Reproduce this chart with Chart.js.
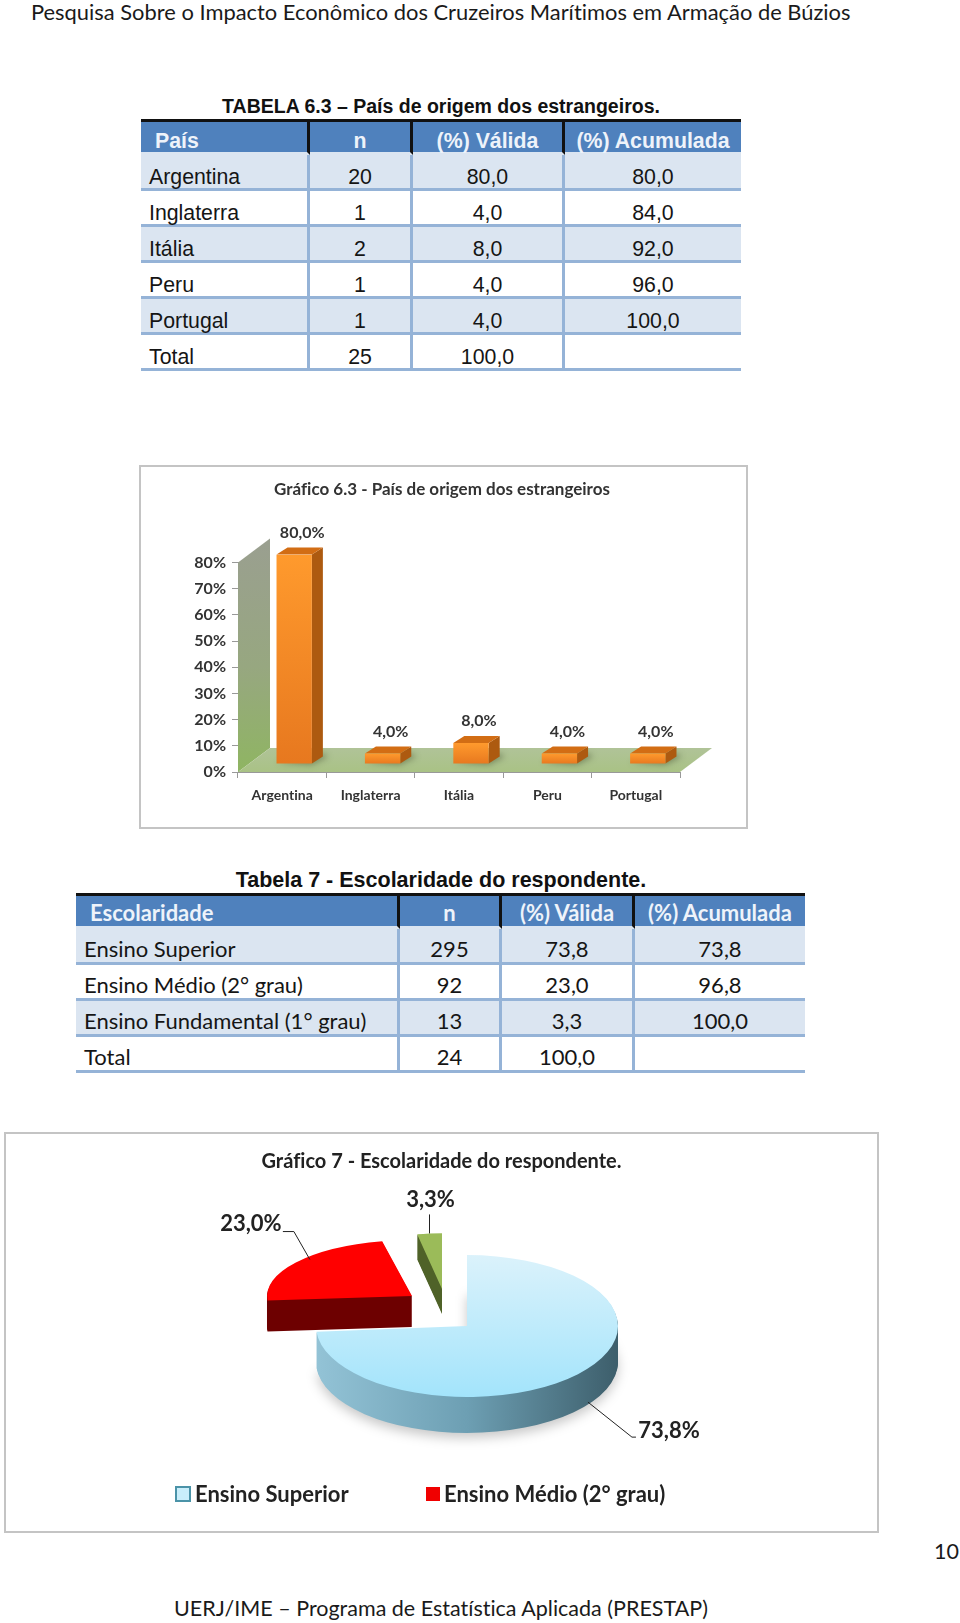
<!DOCTYPE html>
<html lang="pt"><head><meta charset="utf-8">
<script src="https://cdn.jsdelivr.net/npm/chart.js@4"></script>
<style>
*{font-variant-ligatures:none !important}
html,body{margin:0;padding:0;background:#fff}
body{position:relative;width:960px;height:1623px;overflow:hidden;color:#111}
.t{position:absolute;white-space:nowrap}
.run{font:21.5px Lato,sans-serif;color:#1a1a1a}
.cap{font:bold 19.5px "Liberation Sans",sans-serif;left:0;width:882px;text-align:center;color:#111}
.frame{position:absolute;box-sizing:border-box;border:2px solid #c4c4c4;background:#fff}
canvas{position:absolute;display:block}
table{position:absolute;border-collapse:separate;border-spacing:0;table-layout:fixed}
td,th{box-sizing:border-box;height:36px;padding:0;text-align:center;font-weight:normal;border-bottom:3px solid #95b3d7;border-right:3px solid #95b3d7;color:#151515}
td:last-child,th:last-child{border-right:none}
th{background:#4f81bd;color:#eef3fa;font-weight:bold;border-top:3px solid #111;border-bottom:3px solid #dbe5f1;border-right:3px solid #111}
th:first-child{text-align:left;padding-left:14px}
td:first-child{text-align:left;padding-left:8px}
tr.band td{background:#dbe5f1}
.arial td,.arial th{font:21.3px/21px "Liberation Sans",sans-serif;padding-top:12px}
.arial th{font-weight:bold;line-height:21px;padding-top:9px}
.lato td,.lato th{font:22px/27px Lato,sans-serif;padding-top:6px}
.lato th{font-weight:bold;padding-top:2px}
</style></head><body>
<div class="t run" id="hd" style="left:31px;top:-2px;font-size:21.9px">Pesquisa Sobre o Impacto Econômico dos Cruzeiros Marítimos em Armação de Búzios</div>
<div class="t cap" style="top:95px">TABELA 6.3 – País de origem dos estrangeiros.</div>
<table class="arial" id="t1" style="left:141px;top:119px"></table>
<div class="frame" style="left:139px;top:465px;width:609px;height:364px"></div>
<canvas id="barChart" width="607" height="362" style="left:140px;top:466px"></canvas>
<div class="t cap" style="top:868px;font-size:21.5px">Tabela 7 - Escolaridade do respondente.</div>
<table class="lato" id="t2" style="left:76px;top:893px"></table>
<div class="frame" style="left:4px;top:1132px;width:875px;height:401px"></div>
<canvas id="pieChart" width="873" height="399" style="left:5px;top:1133px"></canvas>
<div class="t run" style="left:934px;top:1538px">10</div>
<div class="t run" id="ft" style="left:174px;top:1595px;font-size:21.5px">UERJ/IME – Programa de Estatística Aplicada (PRESTAP)</div>
<script>
// ---- data ----
const countryHeader = ['País','n','(%) Válida','(%) Acumulada'];
const countryRows = [
  ['Argentina','20','80,0','80,0'],
  ['Inglaterra','1','4,0','84,0'],
  ['Itália','2','8,0','92,0'],
  ['Peru','1','4,0','96,0'],
  ['Portugal','1','4,0','100,0'],
  ['Total','25','100,0','']
];
const schoolHeader = ['Escolaridade','n','(%) Válida','(%) Acumulada'];
const schoolRows = [
  ['Ensino Superior','295','73,8','73,8'],
  ['Ensino Médio (2° grau)','92','23,0','96,8'],
  ['Ensino Fundamental (1° grau)','13','3,3','100,0'],
  ['Total','24','100,0','']
];
const countries = ['Argentina','Inglaterra','Itália','Peru','Portugal'];
const countryPct = [80,4,8,4,4];
const schoolLabels = ['Ensino Superior','Ensino Médio (2° grau)','Ensino Fundamental (1° grau)'];
const schoolPct = [73.8,23.0,3.3];
const barTitle = 'Gráfico 6.3 - País de origem dos estrangeiros';
const pieTitle = 'Gráfico 7 - Escolaridade do respondente.';

// ---- tables ----
function buildTable(id, widths, head, rows){
  const t=document.getElementById(id);
  let h='<colgroup>'+widths.map(w=>`<col style="width:${w}px">`).join('')+'</colgroup>';
  h+='<tr>'+head.map(c=>`<th>${c}</th>`).join('')+'</tr>';
  rows.forEach((r,i)=>{h+=`<tr class="${i%2==0?'band':''}">`+r.map(c=>`<td>${c}</td>`).join('')+'</tr>';});
  t.innerHTML=h;
  t.style.width=widths.reduce((a,b)=>a+b,0)+'px';
}
buildTable('t1',[169,103,152,176],countryHeader,countryRows);
buildTable('t2',[324,102,133,170],schoolHeader,schoolRows);

const LATO='Lato, sans-serif';
const pct1=v=>v.toFixed(1).replace('.',',')+'%';

// ---- bar chart with a 3-D look ----
const WALL={dx:32,dy:24};      // depth of the wall and floor
const BAR3D={shiftX:12,shiftY:-8,dx:11,dy:-7};
const bar3d={
  id:'bar3d',
  afterLayout(chart){
    // keep the title centred on the picture frame, not on the asymmetric padding
    chart.titleBlock.left=0;chart.titleBlock.right=chart.width-3;
  },
  beforeDatasetsDraw(chart){
    const {ctx,scales:{x,y}}=chart;
    const x0=x.left,x1=x.right,y0=y.bottom,yT=y.top;
    ctx.save();
    let g=ctx.createLinearGradient(0,yT-WALL.dy,0,y0);
    g.addColorStop(0,'#9a9f90');g.addColorStop(.55,'#97a780');g.addColorStop(1,'#8fb562');
    ctx.fillStyle=g;
    ctx.beginPath();ctx.moveTo(x0,y0);ctx.lineTo(x0,yT);ctx.lineTo(x0+WALL.dx,yT-WALL.dy);ctx.lineTo(x0+WALL.dx,y0-WALL.dy);ctx.closePath();ctx.fill();
    g=ctx.createLinearGradient(0,y0-WALL.dy,0,y0);
    g.addColorStop(0,'#b0c398');g.addColorStop(1,'#a9c285');
    ctx.fillStyle=g;
    ctx.beginPath();ctx.moveTo(x0,y0);ctx.lineTo(x1,y0);ctx.lineTo(x1+WALL.dx,y0-WALL.dy);ctx.lineTo(x0+WALL.dx,y0-WALL.dy);ctx.closePath();ctx.fill();
    const meta=chart.getDatasetMeta(0);
    // contact shadows on the floor
    ctx.filter='blur(3px)';
    ctx.fillStyle='rgba(50,60,30,.45)';
    meta.data.forEach(b=>{
      const l=b.x-b.width/2+BAR3D.shiftX,r=l+b.width,ba=b.base+BAR3D.shiftY;
      ctx.beginPath();ctx.moveTo(r,ba+1);ctx.lineTo(r+BAR3D.dx+5,ba+BAR3D.dy);ctx.lineTo(r+BAR3D.dx,ba+BAR3D.dy-3);ctx.lineTo(l,ba-1);ctx.closePath();ctx.fill();
    });
    ctx.filter='none';
    // side and top faces
    meta.data.forEach(b=>{
      const l=b.x-b.width/2+BAR3D.shiftX,r=l+b.width,t=b.y+BAR3D.shiftY,ba=b.base+BAR3D.shiftY;
      ctx.fillStyle='#ad5a10';
      ctx.beginPath();ctx.moveTo(r,t);ctx.lineTo(r+BAR3D.dx,t+BAR3D.dy);ctx.lineTo(r+BAR3D.dx,ba+BAR3D.dy);ctx.lineTo(r,ba);ctx.closePath();ctx.fill();
      ctx.fillStyle='#d26d14';
      ctx.beginPath();ctx.moveTo(l,t);ctx.lineTo(l+BAR3D.dx,t+BAR3D.dy);ctx.lineTo(r+BAR3D.dx,t+BAR3D.dy);ctx.lineTo(r,t);ctx.closePath();ctx.fill();
    });
    ctx.restore();
    ctx.save();ctx.translate(BAR3D.shiftX,BAR3D.shiftY);
  },
  afterDatasetsDraw(chart){
    const {ctx}=chart;
    ctx.restore();
    ctx.save();
    ctx.font='bold 16px '+LATO;ctx.fillStyle='#333';ctx.textAlign='center';ctx.textBaseline='middle';
    chart.getDatasetMeta(0).data.forEach((b,i)=>{
      ctx.fillText(pct1(countryPct[i]),b.x+BAR3D.shiftX+8,b.y+BAR3D.shiftY-22);
    });
    ctx.restore();
  }
};
new Chart(document.getElementById('barChart'),{
  type:'bar',
  data:{labels:countries,datasets:[{data:countryPct,
    barPercentage:.4,categoryPercentage:1,
    backgroundColor(c){
      const ch=c.chart; if(!ch.chartArea||!c.parsed) return '#f28a25';
      const s=ch.scales.y,top=s.getPixelForValue(c.parsed.y);
      const g=ch.ctx.createLinearGradient(0,top,0,s.bottom);
      g.addColorStop(0,'#ff9a2d');g.addColorStop(1,'#e7781f');return g;
    }}]},
  plugins:[bar3d],
  options:{
    responsive:false,animation:false,
    layout:{padding:{left:50,right:67,top:0,bottom:16}},
    plugins:{
      legend:{display:false},tooltip:{enabled:false},
      title:{display:true,text:barTitle,color:'#333',font:{family:LATO,size:17,weight:'bold'},padding:{top:13,bottom:63}}
    },
    scales:{
      x:{grid:{drawOnChartArea:false,tickLength:6,color:'#999'},border:{color:'#999'},
         ticks:{color:'#333',padding:9,maxRotation:0,font:{family:LATO,size:14,weight:'bold'}},
         afterFit(s){s.height=40;}},
      y:{min:0,max:80,grid:{drawOnChartArea:false,tickLength:6,color:'#999'},border:{color:'#999'},
         ticks:{stepSize:10,color:'#333',padding:6,font:{family:LATO,size:16,weight:'bold'},callback:v=>v+'%'},
         afterFit(s){s.width=48;}}
    }
  }
});

// ---- pie chart drawn as an exploded, tilted 3-D pie ----
const PIE={cx:462,cy:193};     // centre inside the canvas
const sliceLook=[
  {sx:1,sy:.47,tx:0,ty:0,depth:36},
  {sx:.96,sy:.37,tx:-55,ty:-30,depth:31},
  {sx:.8,sy:.37,tx:-25,ty:-37,depth:25}
];
const depthColors=[['#93c3d6','#6d9fb3','#3d5e6b'],['#6d0000','#6d0000','#6d0000'],['#4f6228','#4f6228','#4f6228']];
const callouts=[
  {from:[10,-4],bend:[44,35],end:[48,35],text:[33,-6]},
  {from:[14,-3],bend:[-16,-28],end:[-27,-28],text:[-32,-8]},
  {from:[0,0],bend:[0,-19],end:[0,-19],text:[1,-15]}
];
const pie3d={
  id:'pie3d',
  beforeDatasetsDraw(chart){
    const {ctx}=chart;
    const arcs=chart.getDatasetMeta(0).data;
    const place=(a,L,extra)=>{
      ctx.translate(PIE.cx+L.tx,PIE.cy+L.ty+extra);ctx.scale(L.sx,L.sy);ctx.translate(-a.x,-a.y);
    };
    const path=a=>{ctx.beginPath();ctx.moveTo(a.x,a.y);ctx.arc(a.x,a.y,a.outerRadius,a.startAngle,a.endAngle);ctx.closePath();};
    // soft shadow under the big slice
    ctx.save();ctx.filter='blur(6px)';ctx.fillStyle='rgba(0,0,0,.22)';place(arcs[0],sliceLook[0],sliceLook[0].depth+5);path(arcs[0]);ctx.fill();ctx.restore();
    [2,1,0].forEach(i=>{
      const a=arcs[i],L=sliceLook[i];
      for(let d=L.depth;d>=1;d--){
        ctx.save();place(a,L,d);
        const g=ctx.createLinearGradient(a.x-a.outerRadius,0,a.x+a.outerRadius,0);
        depthColors[i].forEach((c,k)=>g.addColorStop(k/2,c));
        ctx.fillStyle=g;path(a);ctx.fill();ctx.restore();
      }
      ctx.save();place(a,L,0);a.draw(ctx);ctx.restore();
    });
    return false;
  },
  afterDraw(chart){
    const {ctx}=chart;
    const arcs=chart.getDatasetMeta(0).data;
    ctx.save();
    ctx.font='bold 22px '+LATO;ctx.fillStyle='#222';ctx.strokeStyle='#222';ctx.lineWidth=1;ctx.textBaseline='middle';ctx.textAlign='center';
    arcs.forEach((a,i)=>{
      const L=sliceLook[i],C=callouts[i],m=(a.startAngle+a.endAngle)/2;
      const px=PIE.cx+L.tx+Math.cos(m)*a.outerRadius*L.sx+C.from[0];
      const py=PIE.cy+L.ty+Math.sin(m)*a.outerRadius*L.sy+(i==0?L.depth-4:0)+C.from[1];
      ctx.beginPath();ctx.moveTo(px,py);ctx.lineTo(px+C.bend[0],py+C.bend[1]);ctx.lineTo(px+C.end[0],py+C.end[1]);ctx.stroke();
      ctx.fillText(pct1(schoolPct[i]),px+C.end[0]+C.text[0]*1,py+C.end[1]+C.text[1]);
    });
    // legend: the reference shows only its first two entries
    const legendX=[171,421],legendY=354;
    ctx.textAlign='left';
    [0,1].forEach(i=>{
      const X=legendX[i];
      if(i==0){ctx.fillStyle='#c9eefb';ctx.strokeStyle='#4b93a8';ctx.lineWidth=2;ctx.fillRect(X,legendY,14,14);ctx.strokeRect(X,legendY,14,14);}
      else{ctx.fillStyle='#f00000';ctx.fillRect(X,legendY,14,14);}
      ctx.fillStyle='#222';ctx.fillText(chart.data.labels[i],X+(i==0?19:18),legendY+8);
    });
    ctx.restore();
  }
};
new Chart(document.getElementById('pieChart'),{
  type:'pie',
  data:{labels:schoolLabels,datasets:[{data:schoolPct,radius:151,borderWidth:0,
    backgroundColor(c){
      if(c.dataIndex!==0) return ['#a8e3fa','#ff0000','#9bbb59'][c.dataIndex];
      const ch=c.chart; if(!ch.chartArea) return '#a8e3fa';
      const m=(ch.chartArea.top+ch.chartArea.bottom)/2;
      const g=ch.ctx.createLinearGradient(0,m-151,0,m+151);
      g.addColorStop(0,'#dbf2fb');g.addColorStop(1,'#a3e4fb');return g;
    }}]},
  plugins:[pie3d],
  options:{
    responsive:false,animation:false,
    plugins:{
      legend:{display:false},tooltip:{enabled:false},
      title:{display:true,text:pieTitle,color:'#222',font:{family:LATO,size:20,weight:'bold'},padding:{top:17,bottom:2}}
    }
  }
});
</script>
</body></html>
